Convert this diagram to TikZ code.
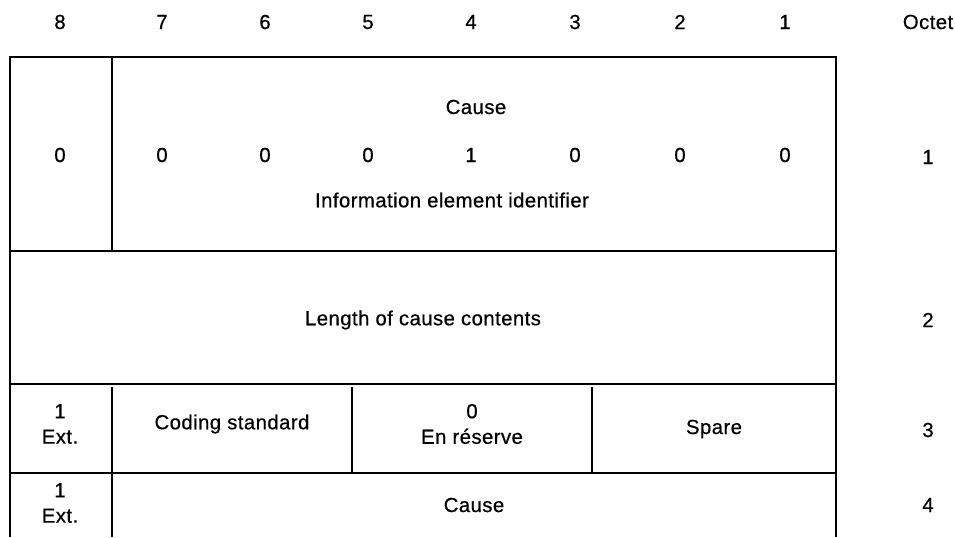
\documentclass[tikz,border=0pt]{standalone}
\usepackage{fontspec}
\setmainfont[FakeBold=0.5,LetterSpace=2]{Liberation Sans}
\begin{document}
\begin{tikzpicture}[x=0.02cm,y=-0.02cm,
  txt/.style={font=\fontsize{11.6}{14.5}\selectfont, inner sep=0pt, align=center},
  grid/.style={line width=1pt}]
\useasboundingbox (0,0) rectangle (955,537);
% header
\foreach \b/\x in {8/60,7/162,6/265,5/368,4/471,3/575,2/680,1/785}
  \node[txt] (h\b) at (\x,22) {\b};
\node[txt] (hoct) at (928,22) {Octet};
% grid
\draw[grid] (10,537) -- (10,57) -- (836,57) -- (836,537);
\draw[grid] (112,57) -- (112,251);
\draw[grid] (10,251) -- (836,251);
\draw[grid] (10,384) -- (836,384);
\draw[grid] (112,387) -- (112,537);
\draw[grid] (352,387) -- (352,473);
\draw[grid] (592,387) -- (592,473);
\draw[grid] (10,473) -- (836,473);
% row 1
\node[txt] (r1b8) at (60,155) {0};
\foreach \b/\x/\v in {7/162/0,6/265/0,5/368/0,4/471/1,3/575/0,2/680/0,1/785/0}
  \node[txt] (r1b\b) at (\x,155) {\v};
\node[txt] (r1cause) at (476,107) {Cause};
\node[txt] (r1iei) at (452,200) {Information element identifier};
\node[txt] (o1) at (928,157) {1};
% row 2
\node[txt] (r2len) at (423,320) {Length of cause contents};
\node[txt] (o2) at (928,320) {2};
% row 3
\node[txt] (r3ext) at (60,424) {1\\Ext.};
\node[txt] (r3cod) at (232,424) {Coding standard};
\node[txt] (r3res) at (472,424) {0\\En réserve};
\node[txt] (r3spare) at (714,429) {Spare};
\node[txt] (o3) at (928,430) {3};
% row 4
\node[txt] (r4ext) at (60,503) {1\\Ext.};
\node[txt] (r4cause) at (474,505) {Cause};
\node[txt] (o4) at (928,505) {4};
\end{tikzpicture}
\end{document}
